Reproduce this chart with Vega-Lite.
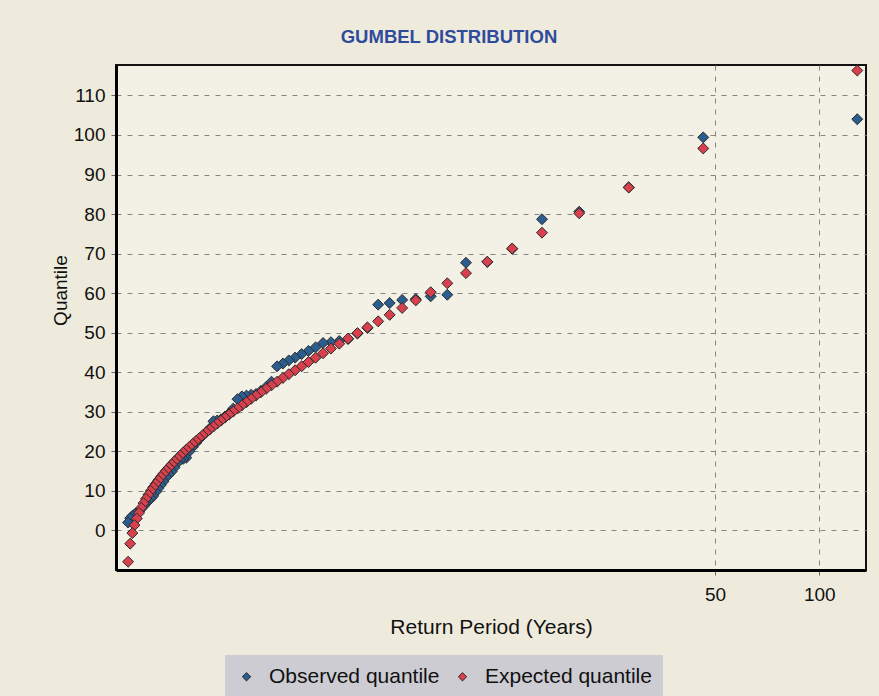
{
  "$schema": "https://vega.github.io/schema/vega-lite/v6.json",
  "width": 750,
  "height": 505,
  "autosize": {"type": "none"},
  "padding": {"left": 116, "top": 65, "right": 13, "bottom": 126},
  "background": "#eeebdd",
  "title": {
    "text": "GUMBEL DISTRIBUTION",
    "font": "Liberation Sans Narrow, Liberation Sans, Arial",
    "fontSize": 18.5,
    "fontWeight": "bold",
    "color": "#2f4c9c",
    "anchor": "middle",
    "dx": -42,
    "offset": 17
  },
  "config": {
    "font": "Liberation Sans",
    "view": {"fill": "#f3f1e5", "stroke": "#111111", "strokeWidth": 2},
    "axis": {
      "labelFont": "Liberation Sans",
      "titleFont": "Liberation Sans",
      "labelColor": "#111111",
      "titleColor": "#111111",
      "labelFontSize": 19,
      "titleFontSize": 19,
      "titleFontWeight": "normal",
      "domainColor": "#000000",
      "domainWidth": 3,
      "tickColor": "#666666",
      "tickSize": 5,
      "grid": true,
      "gridColor": "#858585",
      "gridDash": [5, 6],
      "gridWidth": 1
    },
    "legend": {
      "labelFont": "Liberation Sans",
      "labelFontSize": 21,
      "labelColor": "#111111",
      "labelLimit": 400
    }
  },
  "datasets": {
    "gumbel": [
      {"T": 128.786, "observed": 104.0, "expected": 116.3},
      {"T": 46.231, "observed": 99.4, "expected": 96.6},
      {"T": 28.172, "observed": 86.8, "expected": 86.7},
      {"T": 20.258, "observed": 80.6, "expected": 80.2},
      {"T": 15.816, "observed": 78.7, "expected": 75.3},
      {"T": 12.971, "observed": 71.2, "expected": 71.3},
      {"T": 10.994, "observed": 67.9, "expected": 67.95},
      {"T": 9.540, "observed": 67.7, "expected": 65.07},
      {"T": 8.425, "observed": 59.6, "expected": 62.5},
      {"T": 7.544, "observed": 59.2, "expected": 60.25},
      {"T": 6.830, "observed": 58.5, "expected": 58.17},
      {"T": 6.239, "observed": 58.3, "expected": 56.27},
      {"T": 5.742, "observed": 57.5, "expected": 54.52},
      {"T": 5.319, "observed": 57.1, "expected": 52.88},
      {"T": 4.953, "observed": 51.2, "expected": 51.35},
      {"T": 4.635, "observed": 49.8, "expected": 49.91},
      {"T": 4.355, "observed": 48.4, "expected": 48.54},
      {"T": 4.107, "observed": 47.9, "expected": 47.23},
      {"T": 3.886, "observed": 47.6, "expected": 45.99},
      {"T": 3.687, "observed": 47.4, "expected": 44.81},
      {"T": 3.508, "observed": 46.3, "expected": 43.68},
      {"T": 3.345, "observed": 45.4, "expected": 42.58},
      {"T": 3.197, "observed": 44.6, "expected": 41.52},
      {"T": 3.061, "observed": 43.7, "expected": 40.50},
      {"T": 2.936, "observed": 43.0, "expected": 39.51},
      {"T": 2.822, "observed": 42.2, "expected": 38.55},
      {"T": 2.715, "observed": 41.5, "expected": 37.62},
      {"T": 2.617, "observed": 37.6, "expected": 36.70},
      {"T": 2.525, "observed": 36.3, "expected": 35.82},
      {"T": 2.440, "observed": 35.3, "expected": 34.95},
      {"T": 2.360, "observed": 34.5, "expected": 34.09},
      {"T": 2.285, "observed": 34.3, "expected": 33.27},
      {"T": 2.215, "observed": 34.1, "expected": 32.44},
      {"T": 2.149, "observed": 33.9, "expected": 31.64},
      {"T": 2.087, "observed": 33.2, "expected": 30.84},
      {"T": 2.028, "observed": 30.8, "expected": 30.06},
      {"T": 1.973, "observed": 29.6, "expected": 29.29},
      {"T": 1.920, "observed": 28.8, "expected": 28.53},
      {"T": 1.870, "observed": 28.1, "expected": 27.77},
      {"T": 1.823, "observed": 27.8, "expected": 27.02},
      {"T": 1.778, "observed": 27.6, "expected": 26.28},
      {"T": 1.735, "observed": 25.8, "expected": 25.54},
      {"T": 1.695, "observed": 24.8, "expected": 24.81},
      {"T": 1.656, "observed": 24.0, "expected": 24.08},
      {"T": 1.618, "observed": 23.1, "expected": 23.34},
      {"T": 1.583, "observed": 22.1, "expected": 22.62},
      {"T": 1.549, "observed": 21.1, "expected": 21.89},
      {"T": 1.516, "observed": 20.0, "expected": 21.16},
      {"T": 1.485, "observed": 18.4, "expected": 20.43},
      {"T": 1.455, "observed": 18.1, "expected": 19.70},
      {"T": 1.426, "observed": 17.9, "expected": 18.96},
      {"T": 1.399, "observed": 17.1, "expected": 18.22},
      {"T": 1.372, "observed": 15.9, "expected": 17.46},
      {"T": 1.347, "observed": 14.9, "expected": 16.70},
      {"T": 1.322, "observed": 14.2, "expected": 15.94},
      {"T": 1.298, "observed": 13.4, "expected": 15.15},
      {"T": 1.275, "observed": 12.4, "expected": 14.35},
      {"T": 1.253, "observed": 11.5, "expected": 13.53},
      {"T": 1.232, "observed": 10.6, "expected": 12.69},
      {"T": 1.211, "observed": 9.7, "expected": 11.82},
      {"T": 1.191, "observed": 8.7, "expected": 10.93},
      {"T": 1.172, "observed": 8.1, "expected": 10.00},
      {"T": 1.153, "observed": 7.4, "expected": 9.02},
      {"T": 1.135, "observed": 6.9, "expected": 8.00},
      {"T": 1.117, "observed": 6.1, "expected": 6.91},
      {"T": 1.100, "observed": 5.5, "expected": 5.72},
      {"T": 1.084, "observed": 4.9, "expected": 4.44},
      {"T": 1.068, "observed": 4.5, "expected": 3.00},
      {"T": 1.052, "observed": 4.1, "expected": 1.34},
      {"T": 1.037, "observed": 3.7, "expected": -0.67},
      {"T": 1.022, "observed": 3.1, "expected": -3.34},
      {"T": 1.008, "observed": 2.0, "expected": -7.91}
    ]
  },
  "data": {"name": "gumbel"},
  "encoding": {
    "x": {
      "field": "T",
      "type": "quantitative",
      "scale": {"type": "log", "domain": [0.93, 136.5], "nice": false},
      "axis": {
        "values": [50, 100],
        "format": "d",
        "title": "Return Period (Years)",
        "labelPadding": 10,
        "titleFontSize": 21,
        "titlePadding": 12
      }
    }
  },
  "layer": [
    {
      "mark": {"type": "point", "shape": "diamond", "size": 120, "filled": true, "opacity": 1, "stroke": "#2b2b2b", "strokeWidth": 1},
      "encoding": {
        "y": {
          "field": "observed",
          "type": "quantitative",
          "scale": {"domain": [-10, 117.7], "nice": false, "zero": false},
          "axis": {
            "values": [0, 10, 20, 30, 40, 50, 60, 70, 80, 90, 100, 110],
            "title": "Quantile",
            "labelPadding": 6,
            "titleX": -46,
            "titleY": 225
          }
        },
        "color": {
          "datum": "Observed quantile",
          "type": "nominal",
          "scale": {"domain": ["Observed quantile", "Expected quantile"], "range": ["#2c5d8f", "#d8404d"]},
          "legend": {
            "title": null,
            "orient": "none",
            "legendX": 109,
            "legendY": 590,
            "direction": "horizontal",
            "fillColor": "#cdccd3",
            "padding": 11,
            "symbolType": "diamond",
            "symbolSize": 70,
            "symbolStrokeColor": "#2b2b2b",
            "symbolStrokeWidth": 1,
            "labelOffset": 12,
            "columnPadding": 12,
            "labelLimit": 400,
            "labelExpr": "datum.label == 'Expected quantile' ? datum.label + '       ' : datum.label"
          }
        }
      }
    },
    {
      "mark": {"type": "point", "shape": "diamond", "size": 120, "filled": true, "opacity": 1, "stroke": "#2b2b2b", "strokeWidth": 1},
      "encoding": {
        "y": {"field": "expected", "type": "quantitative"},
        "color": {"datum": "Expected quantile", "type": "nominal"}
      }
    }
  ]
}
